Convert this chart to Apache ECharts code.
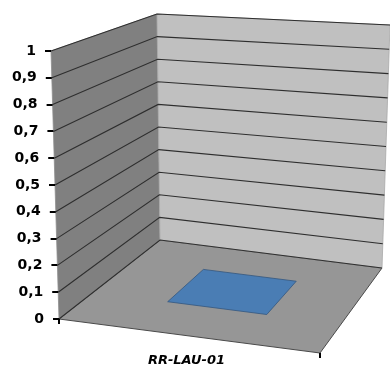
<!DOCTYPE html>
<html><head><meta charset="utf-8">
<script src="https://cdn.jsdelivr.net/npm/echarts@6/dist/echarts.min.js"></script>
<style>html,body{margin:0;padding:0;background:#fff}#c{width:390px;height:367px}</style>
</head><body><div id="c"></div>
<script>
// ---- data ----
const categories = ['RR-LAU-01'];
const seriesValues = [0];
const yTickValues = [0, 0.1, 0.2, 0.3, 0.4, 0.5, 0.6, 0.7, 0.8, 0.9, 1];
const yTickLabels = ['0', '0,1', '0,2', '0,3', '0,4', '0,5', '0,6', '0,7', '0,8', '0,9', '1'];
const yMin = 0, yMax = 1, yInterval = 0.1;

// ---- layout of the 3D box (pixel corners), styling ----
const BOX = {
  FLB: [59, 319], FLT: [51, 51],
  BLB: [160, 240], BLT: [157, 14],
  FRB: [320, 353], FRT: [312, 85],
  BRB: [382, 268], BRT: [390, 25]
};
const BAR_WIDTH_RATIO = 0.4;
const BAR_DEPTH = [0.34, 0.74];

function lerp(a, b, s) { return [a[0] + (b[0] - a[0]) * s, a[1] + (b[1] - a[1]) * s]; }
function project(u, w, t) {
  const fl = lerp(BOX.FLB, BOX.FLT, t), fr = lerp(BOX.FRB, BOX.FRT, t);
  const bl = lerp(BOX.BLB, BOX.BLT, t), br = lerp(BOX.BRB, BOX.BRT, t);
  return lerp(lerp(fl, fr, u), lerp(bl, br, u), w);
}
function frac(api, params, v) {
  const cs = params.coordSys;
  const y = api.coord([0, v])[1];
  return (cs.y + cs.height - y) / cs.height;
}

const rich = {};
yTickLabels.forEach((lab, i) => {
  rich['p' + i] = {
    fontFamily: 'DejaVu Sans', fontWeight: 'bold', fontSize: 14, color: '#000',
    padding: [0, 8 * yTickValues[i], 0, 0]
  };
});

const chart = echarts.init(document.getElementById('c'), null, { renderer: 'canvas' });
chart.setOption({
  animation: false,
  backgroundColor: '#ffffff',
  grid: { left: 59, right: 76, top: 51, bottom: 48, containLabel: false },
  xAxis: {
    type: 'category', data: categories,
    axisLine: { show: false }, axisTick: { show: false }, splitLine: { show: false },
    axisLabel: {
      margin: 35, fontFamily: 'DejaVu Sans', fontWeight: 'bold', fontStyle: 'italic',
      fontSize: 13, color: '#000'
    }
  },
  yAxis: {
    type: 'value', min: yMin, max: yMax, interval: yInterval,
    axisLine: { show: false }, axisTick: { show: false }, splitLine: { show: false },
    axisLabel: {
      margin: 15,
      formatter: function (val, idx) {
        let i = yTickValues.findIndex(t => Math.abs(t - val) < 1e-9);
        if (i < 0) i = idx;
        return '{p' + i + '|' + yTickLabels[i] + '}';
      },
      rich: rich
    }
  },
  series: [
    {
      type: 'custom', z: 1, silent: true,
      data: [[0, yMin]],
      renderItem: function (params, api) {
        const t0 = frac(api, params, yMin), t1 = frac(api, params, yMax);
        const P = project;
        return {
          type: 'group', children: [
            { type: 'polygon', shape: { points: [P(0, 0, t0), P(1, 0, t0), P(1, 1, t0), P(0, 1, t0)] },
              style: { fill: '#969696', stroke: '#4a4a4a', lineWidth: 1 } },
            { type: 'polygon', shape: { points: [P(0, 0, t0), P(0, 0, t1), P(0, 1, t1), P(0, 1, t0)] },
              style: { fill: '#808080', stroke: '#8e8e8e', lineWidth: 0.8 } },
            { type: 'polygon', shape: { points: [P(0, 1, t0), P(0, 1, t1), P(1, 1, t1), P(1, 1, t0)] },
              style: { fill: '#c0c0c0', stroke: '#a8a8a8', lineWidth: 0.8 } }
          ]
        };
      }
    },
    {
      type: 'custom', z: 2, silent: true,
      data: yTickValues.map(v => [0, v]),
      renderItem: function (params, api) {
        const t = frac(api, params, api.value(1));
        const a = project(0, 0, t), b = project(0, 1, t), c = project(1, 1, t);
        return { type: 'polyline', shape: { points: [a, b, c] },
                 style: { stroke: '#2e2e2e', lineWidth: 1.1, fill: null } };
      }
    },
    {
      type: 'custom', z: 5, silent: true,
      data: yTickValues.map(v => [0, v]),
      renderItem: function (params, api) {
        const t = frac(api, params, api.value(1));
        const a = project(0, 0, t);
        return { type: 'rect', shape: { x: a[0] - 6, y: Math.round(a[1]) - 1, width: 6, height: 2 },
                 style: { fill: '#000' } };
      }
    },
    {
      type: 'custom', z: 5, silent: true,
      data: [0, 1].map(u => [u, yMin]),
      renderItem: function (params, api) {
        const t0 = frac(api, params, yMin);
        const p = project(api.value(0), 0, t0);
        return { type: 'rect', shape: { x: Math.round(p[0]) - 1, y: p[1], width: 2, height: 5 },
                 style: { fill: '#000' } };
      }
    },
    {
      type: 'custom', z: 3,
      data: categories.map((c, i) => [i, seriesValues[i]]),
      renderItem: function (params, api) {
        const cs = params.coordSys;
        const c = api.coord([api.value(0), api.value(1)]);
        const band = api.size([1, 0])[0];
        const uc = (c[0] - cs.x) / cs.width;
        const hb = BAR_WIDTH_RATIO * band / cs.width / 2;
        const u0 = uc - hb, u1 = uc + hb, w0 = BAR_DEPTH[0], w1 = BAR_DEPTH[1];
        const tb = frac(api, params, 0);
        const t = (cs.y + cs.height - c[1]) / cs.height;
        const P = project;
        const kids = [];
        if (Math.abs(t - tb) > 1e-6) {
          kids.push({ type: 'polygon', shape: { points: [P(u0, w0, tb), P(u1, w0, tb), P(u1, w0, t), P(u0, w0, t)] },
            style: { fill: '#3f6ea3', stroke: '#2c4e75', lineWidth: 0.8 } });
          kids.push({ type: 'polygon', shape: { points: [P(u1, w0, tb), P(u1, w1, tb), P(u1, w1, t), P(u1, w0, t)] },
            style: { fill: '#32587f', stroke: '#2c4e75', lineWidth: 0.8 } });
        }
        kids.push({ type: 'polygon', shape: { points: [P(u0, w0, t), P(u1, w0, t), P(u1, w1, t), P(u0, w1, t)] },
          style: { fill: '#4a7db4', stroke: '#34577f', lineWidth: 0.8 } });
        return { type: 'group', children: kids };
      }
    }
  ]
});
</script>
</body></html>
